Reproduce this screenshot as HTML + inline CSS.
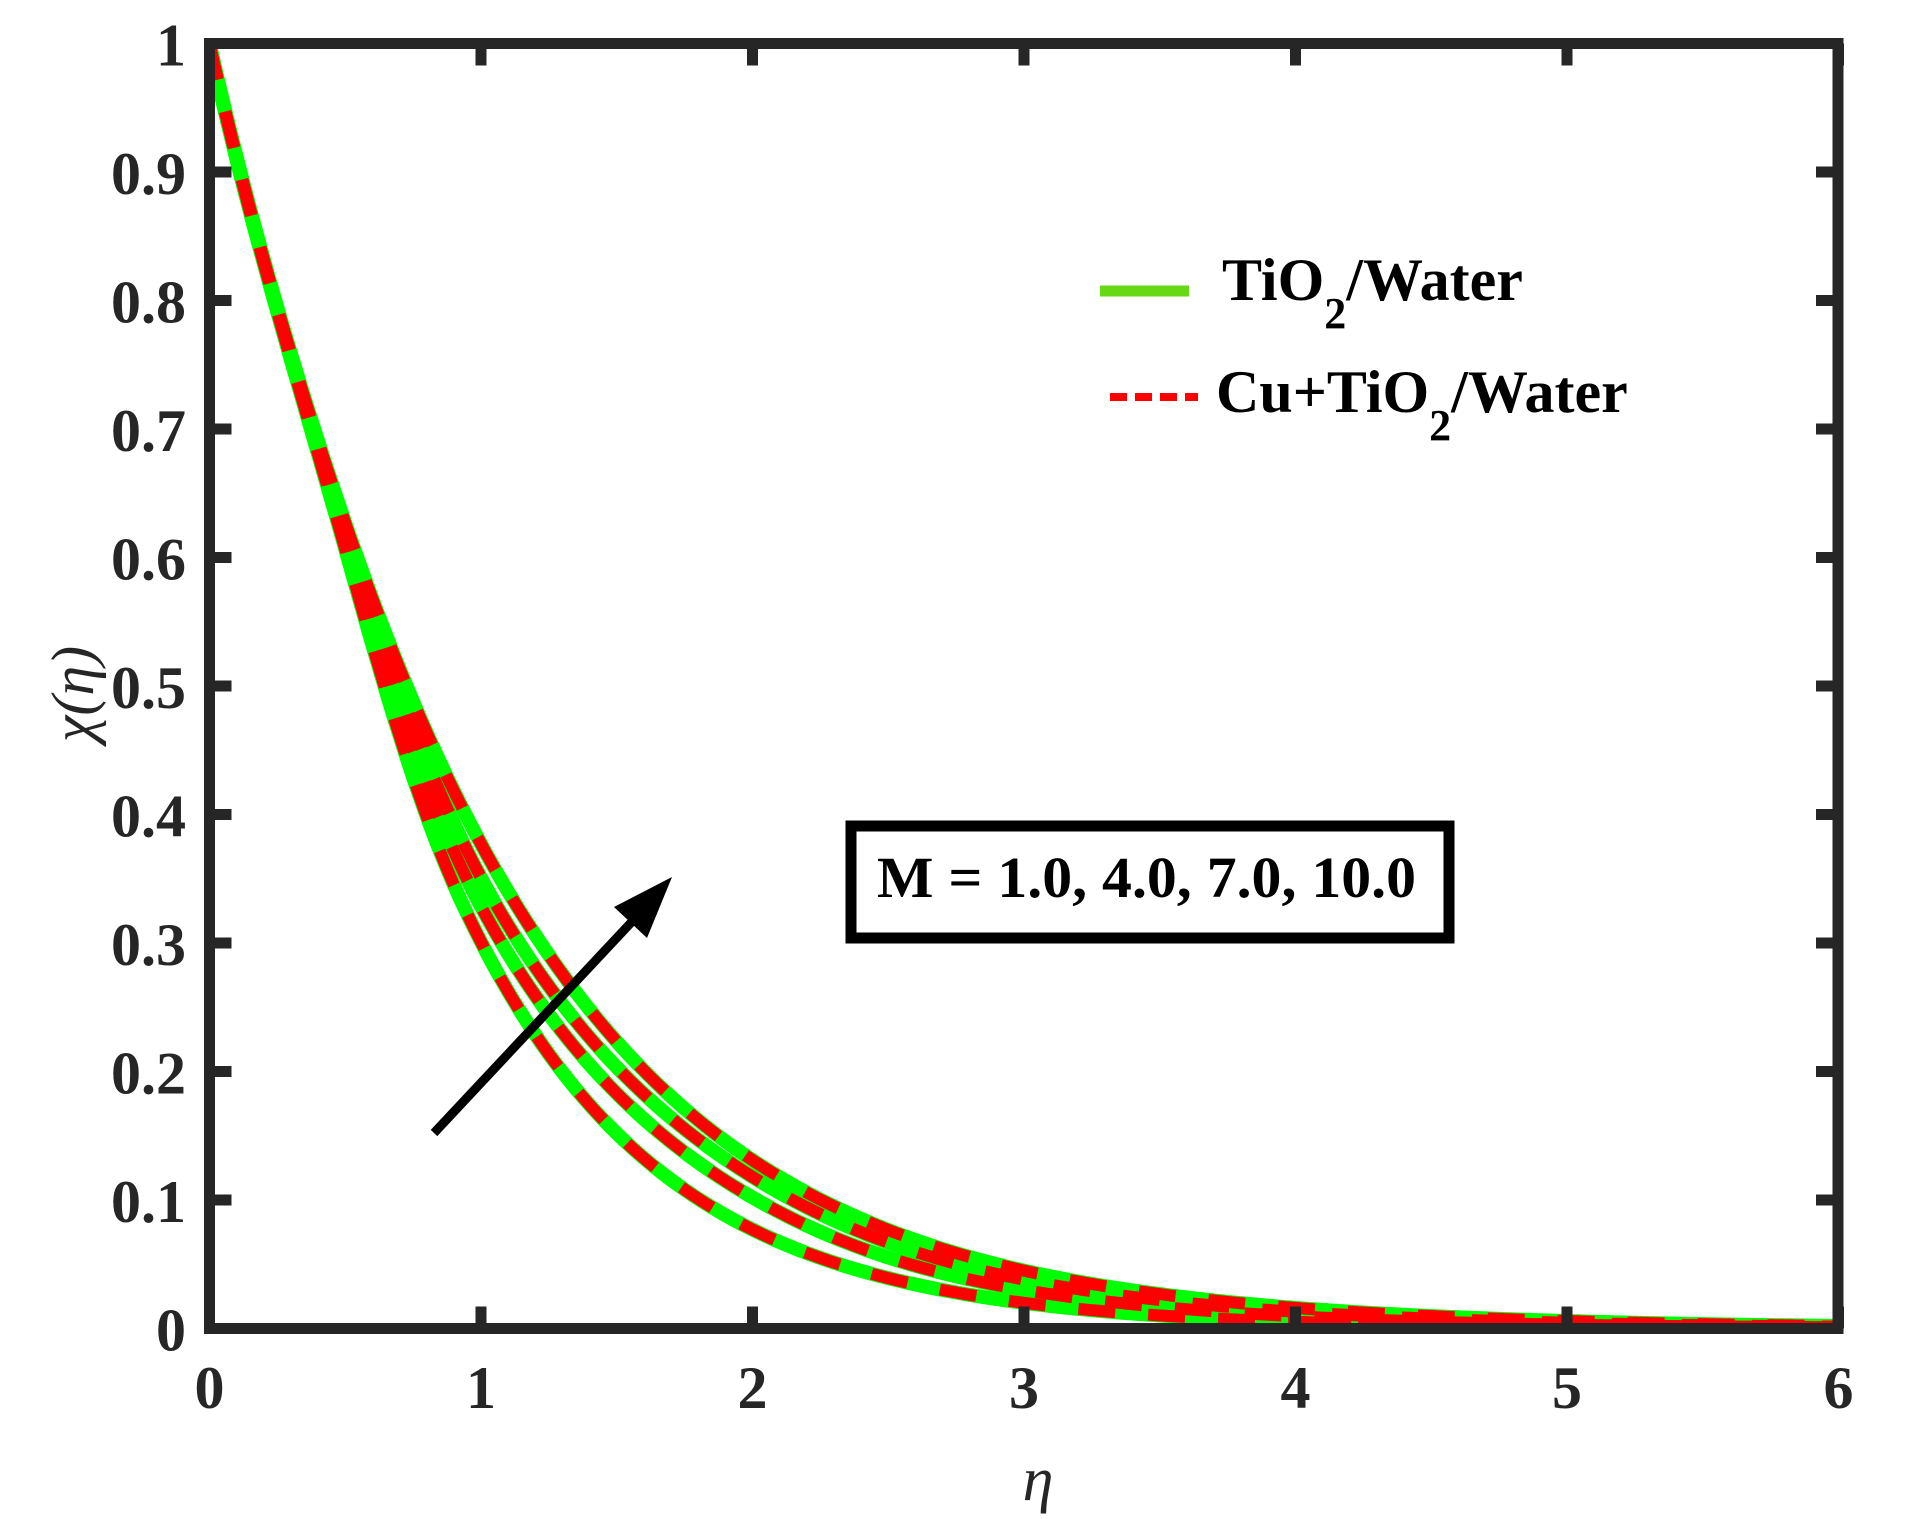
<!DOCTYPE html>
<html><head><meta charset="utf-8"><style>
html,body{margin:0;padding:0;background:#fff;}
svg{display:block;}
text{font-family:"Liberation Serif","DejaVu Serif",serif;fill:#262626;}
</style></head><body>
<svg id="s" width="1908" height="1519" viewBox="0 0 1908 1519" xmlns="http://www.w3.org/2000/svg">
<defs><clipPath id="c"><rect x="209" y="38" width="1630" height="1291"/></clipPath></defs>
<g id="curves" clip-path="url(#c)"></g>
<g stroke="#262626" stroke-width="11" fill="none" id="axes">
<rect x="209.5" y="43.5" width="1628.5" height="1285"/>
</g>
<g id="ticks" stroke="#262626" stroke-width="11"></g>
<g id="labels" font-weight="bold" font-size="60"></g>
<text x="1038" y="1500" font-size="62" font-style="italic" text-anchor="middle">η</text>
<text transform="translate(93,694) rotate(-90)" font-size="60" font-style="italic" text-anchor="middle">χ(η)</text>
<line x1="1100" y1="291" x2="1189" y2="291" stroke="#66d814" stroke-width="11"/>
<line x1="1110" y1="397" x2="1198" y2="397" stroke="#ff0000" stroke-width="8" stroke-dasharray="17 8"/>
<text x="1222" y="300" font-size="60" font-weight="bold" fill="#000" style="fill:#000">TiO<tspan font-size="44" dy="28">2</tspan><tspan dy="-28">/Water</tspan></text>
<text x="1216" y="412" font-size="60" font-weight="bold" style="fill:#000">Cu+TiO<tspan font-size="44" dy="28">2</tspan><tspan dy="-28">/Water</tspan></text>
<rect x="851" y="826" width="598" height="112" fill="#fff" stroke="#000" stroke-width="11"/>
<text x="877" y="897" font-size="58" font-weight="bold" textLength="539" lengthAdjust="spacingAndGlyphs" style="fill:#000">M = 1.0, 4.0, 7.0, 10.0</text>
<line x1="434" y1="1133" x2="655" y2="897" stroke="#000" stroke-width="9"/>
<polygon points="672,877 614,907 647,938" fill="#000"/>
</svg>
<script>
(function(){
var NS="http://www.w3.org/2000/svg";
var X0=209.5,SX=271.5,Y0=1328.5,SY=1285;
function px(e){return X0+e*SX;} function py(v){return Y0-v*SY;}
var data=[
[[0,1],[0.455,0.640],[0.924,0.334],[2,0.077],[3,0.020],[4,0.0052],[5,0.0014],[6,0.0004]],
[[0,1],[0.455,0.645],[0.986,0.334],[2,0.102],[3,0.030],[4,0.0095],[5,0.003],[6,0.001]],
[[0,1],[0.455,0.650],[1.044,0.334],[2,0.118],[3,0.038],[4,0.013],[5,0.0045],[6,0.0015]],
[[0,1],[0.455,0.655],[1.117,0.334],[2,0.131],[3,0.045],[4,0.016],[5,0.0058],[6,0.002]]];
function interp(pts){
 var n=pts.length,x=pts.map(p=>p[0]),y=pts.map(p=>Math.log(p[1]));
 var d=[],m=[];
 for(var i=0;i<n-1;i++)d.push((y[i+1]-y[i])/(x[i+1]-x[i]));
 m[0]=d[0];m[n-1]=d[n-2];
 for(i=1;i<n-1;i++){m[i]=(d[i-1]*d[i]<=0)?0:2/(1/d[i-1]+1/d[i]);}
 return function(t){
  var k=0;while(k<n-2&&t>x[k+1])k++;
  var h=x[k+1]-x[k],s=(t-x[k])/h;
  var h00=2*s*s*s-3*s*s+1,h10=s*s*s-2*s*s+s,h01=-2*s*s*s+3*s*s,h11=s*s*s-s*s;
  return Math.exp(h00*y[k]+h10*h*m[k]+h01*y[k+1]+h11*h*m[k+1]);
 };
}
var g=document.getElementById("curves");
var paths=data.map(function(pts){
 var f=interp(pts),s="";
 for(var e=0;e<=6.0001;e+=0.005){s+=(s?"L":"M")+px(e).toFixed(2)+","+py(f(e)).toFixed(2);}
 return s;
});
paths.forEach(function(d){var p=document.createElementNS(NS,"path");p.setAttribute("d",d);p.setAttribute("fill","none");p.setAttribute("stroke","#00ff00");p.setAttribute("stroke-width","14");g.appendChild(p);});
paths.forEach(function(d){var p=document.createElementNS(NS,"path");p.setAttribute("d",d);p.setAttribute("fill","none");p.setAttribute("stroke","#ff0000");p.setAttribute("stroke-width","12");p.setAttribute("stroke-dasharray","37 33");g.appendChild(p);});
var t=document.getElementById("ticks"),L=document.getElementById("labels");
function ln(a,b,c,d){var l=document.createElementNS(NS,"line");l.setAttribute("x1",a);l.setAttribute("y1",b);l.setAttribute("x2",c);l.setAttribute("y2",d);t.appendChild(l);}
function tx(x,y,s,anc){var e=document.createElementNS(NS,"text");e.setAttribute("x",x);e.setAttribute("y",y);e.setAttribute("text-anchor",anc);e.textContent=s;L.appendChild(e);}
for(var i=0;i<=6;i++){var x=px(i);ln(x,Y0,x,Y0-22);ln(x,43.5,x,65.5);tx(x,1408,""+i,"middle");}
for(i=0;i<=10;i++){var v=i/10,y=py(v);ln(X0,y,X0+22,y);ln(1838,y,1816,y);tx(186,y+22,i==0?"0":(i==10?"1":"0."+i),"end");}
})();
</script>
</body></html>
